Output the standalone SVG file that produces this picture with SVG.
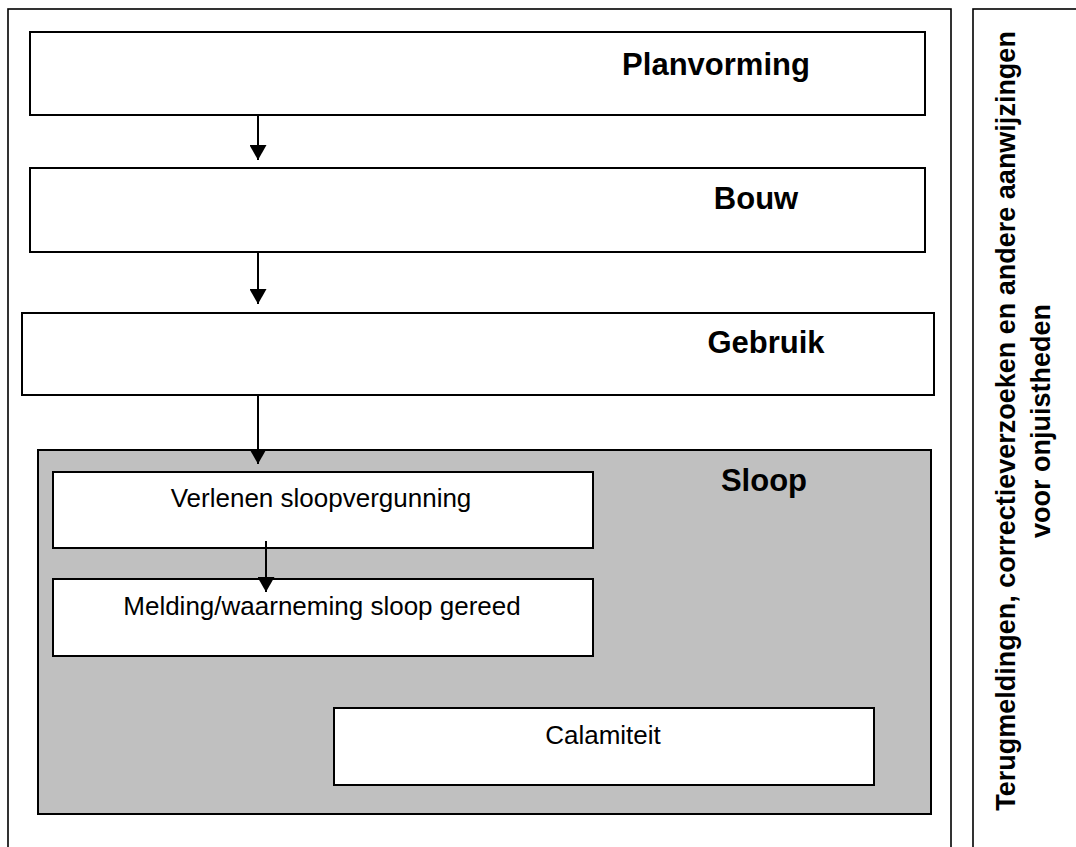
<svg xmlns="http://www.w3.org/2000/svg" width="1076" height="847" viewBox="0 0 1076 847">
<defs>
<style>
.box{fill:#ffffff;stroke:#000000;stroke-width:2}
.frame{fill:#ffffff;stroke:#000000;stroke-width:1.6}
.grey{fill:#c0c0c0;stroke:#000000;stroke-width:2}
.hd{font-family:"Liberation Sans",Arial,sans-serif;font-weight:bold;font-size:31px;fill:#000;text-anchor:middle}
.tx{font-family:"Liberation Sans",Arial,sans-serif;font-size:26px;fill:#000;text-anchor:middle}
.vt{font-family:"Liberation Sans",Arial,sans-serif;font-weight:bold;font-size:27px;fill:#000;text-anchor:middle}
.con{stroke:#000000;stroke-width:2;fill:none}
</style>
<marker id="ah" markerWidth="16" markerHeight="17" viewBox="0 0 16 17" refX="15" refY="8.5" orient="auto" markerUnits="userSpaceOnUse">
<path d="M0,0 L15,8.5 L0,17 Z" fill="#000"/>
</marker>
</defs>
<rect width="1076" height="847" fill="#ffffff"/>
<g id="frame-main"><rect class="frame" x="8" y="9" width="943" height="860"/></g>
<g id="frame-side">
<rect class="frame" x="973" y="9" width="120" height="860"/>
<text class="vt" transform="translate(1015,421) rotate(-90)">Terugmeldingen, correctieverzoeken en andere aanwijzingen</text>
<text class="vt" transform="translate(1050,421) rotate(-90)">voor onjuistheden</text>
</g>
<g id="planvorming"><rect class="box" x="30" y="32" width="895" height="83"/><text class="hd" x="716" y="75">Planvorming</text></g>
<g id="bouw"><rect class="box" x="30" y="168" width="895" height="84"/><text class="hd" x="756" y="209">Bouw</text></g>
<g id="gebruik"><rect class="box" x="22" y="313" width="912" height="82"/><text class="hd" x="766" y="353">Gebruik</text></g>
<g id="sloop"><rect class="grey" x="38" y="450" width="893" height="364"/><text class="hd" x="764" y="491">Sloop</text></g>
<g id="verlenen"><rect class="box" x="53" y="472" width="540" height="76"/><text class="tx" x="321" y="507">Verlenen sloopvergunning</text></g>
<g id="melding"><rect class="box" x="53" y="579" width="540" height="77"/><text class="tx" x="322" y="615">Melding/waarneming sloop gereed</text></g>
<g id="calamiteit"><rect class="box" x="334" y="708" width="540" height="77"/><text class="tx" x="603" y="744">Calamiteit</text></g>
<g id="connectors">
<line class="con" x1="258" y1="115" x2="258" y2="160" marker-end="url(#ah)"/>
<line class="con" x1="258" y1="252" x2="258" y2="304" marker-end="url(#ah)"/>
<line class="con" x1="258" y1="395" x2="258" y2="464" marker-end="url(#ah)"/>
<line class="con" x1="266" y1="541" x2="266" y2="592" marker-end="url(#ah)"/>
</g>
</svg>
